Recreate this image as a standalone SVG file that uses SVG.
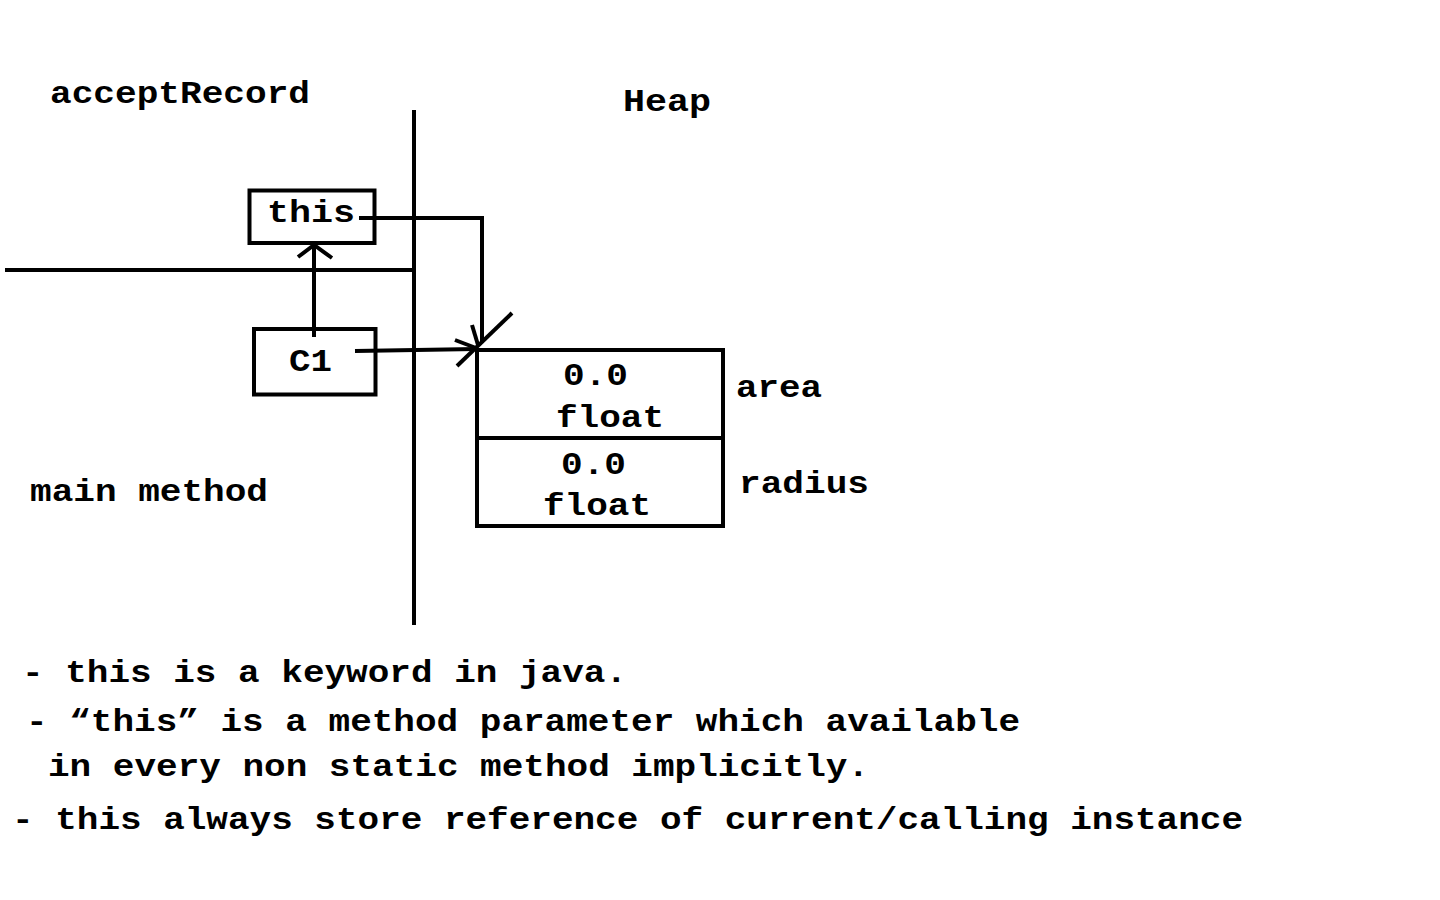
<svg xmlns="http://www.w3.org/2000/svg" width="1440" height="900" viewBox="0 0 1440 900">
<style>
text{font-family:"Liberation Mono","Courier New",monospace;font-weight:bold;font-size:32px;fill:#000}
.ln{fill:none;stroke:#000;stroke-width:4;stroke-linecap:butt;stroke-linejoin:miter}
</style>
<rect width="1440" height="900" fill="#fff"/>
<g id="labels">
<text x="50" y="103" textLength="260" lengthAdjust="spacingAndGlyphs">acceptRecord</text>
<text x="623" y="111" textLength="88" lengthAdjust="spacingAndGlyphs">Heap</text>
<text x="30" y="501" textLength="238" lengthAdjust="spacingAndGlyphs">main method</text>
</g>
<g id="divider">
<line class="ln" x1="414" y1="110" x2="414" y2="625"/>
<line class="ln" x1="5" y1="270" x2="414" y2="270"/>
</g>
<g id="node-this">
<rect class="ln" x="249.5" y="190.5" width="125" height="52.5"/>
<text x="267" y="222" textLength="88" lengthAdjust="spacingAndGlyphs">this</text>
</g>
<g id="node-c1">
<rect class="ln" x="254" y="329" width="121.5" height="65.5"/>
<text x="289" y="371" textLength="43" lengthAdjust="spacingAndGlyphs">C1</text>
</g>
<g id="node-heap">
<rect class="ln" x="477" y="350" width="246" height="176"/>
<line class="ln" x1="477" y1="438" x2="723" y2="438"/>
<text x="563" y="385" textLength="65" lengthAdjust="spacingAndGlyphs">0.0</text>
<text x="556" y="427" textLength="108" lengthAdjust="spacingAndGlyphs">float</text>
<text x="561" y="474" textLength="65" lengthAdjust="spacingAndGlyphs">0.0</text>
<text x="543" y="515" textLength="108" lengthAdjust="spacingAndGlyphs">float</text>
<text x="736" y="397" textLength="86" lengthAdjust="spacingAndGlyphs">area</text>
<text x="739" y="493" textLength="130" lengthAdjust="spacingAndGlyphs">radius</text>
</g>
<g id="connectors">
<line class="ln" x1="314" y1="337" x2="314" y2="245"/>
<polyline class="ln" points="298,257 314,245 332,258"/>
<polyline class="ln" points="359,218 482,218 482,343"/>
<line class="ln" x1="472" y1="325" x2="478" y2="345"/>
<line class="ln" x1="512" y1="313" x2="457" y2="366"/>
<line class="ln" x1="355" y1="351" x2="476" y2="349"/>
<line class="ln" x1="455" y1="340" x2="476" y2="348"/>
</g>
<g id="notes">
<text x="22" y="682" textLength="605" lengthAdjust="spacingAndGlyphs">- this is a keyword in java.</text>
<text x="26" y="731" textLength="994" lengthAdjust="spacingAndGlyphs">- “this” is a method parameter which available</text>
<text x="48" y="776" textLength="821" lengthAdjust="spacingAndGlyphs">in every non static method implicitly.</text>
<text x="12" y="829" textLength="1231" lengthAdjust="spacingAndGlyphs">- this always store reference of current/calling instance</text>
</g>
</svg>
